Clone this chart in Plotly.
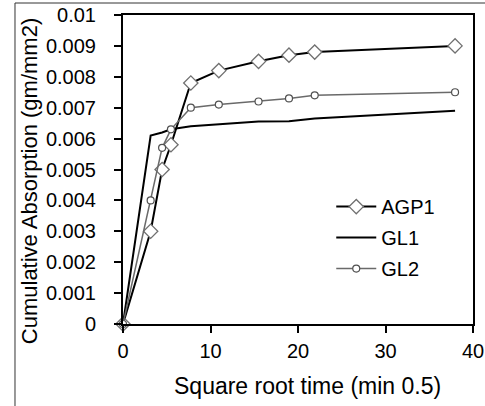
import plotly.graph_objects as go

# Data
x_vals = [0, 3.16, 4.47, 5.48, 7.75, 10.95, 15.49, 18.97, 21.91, 37.95]
agp1 = [0, 0.0030, 0.0050, 0.0058, 0.0078, 0.0082, 0.0085, 0.0087, 0.0088, 0.0090]
gl1 = [0, 0.0061, 0.0062, 0.0063, 0.0064, 0.00647, 0.00655, 0.00656, 0.00665, 0.0069]
gl2 = [0, 0.0040, 0.0057, 0.0063, 0.0070, 0.0071, 0.0072, 0.0073, 0.0074, 0.0075]

x_ticks = [0, 10, 20, 30, 40]
y_ticks = [0, 0.001, 0.002, 0.003, 0.004, 0.005, 0.006, 0.007, 0.008, 0.009, 0.01]
y_ticktext = ["0", "0.001", "0.002", "0.003", "0.004", "0.005", "0.006",
              "0.007", "0.008", "0.009", "0.01"]

x_title = "Square root time (min 0.5)"
y_title = "Cumulative Absorption (gm/mm2)"

FONT = "Arial, Liberation Sans, sans-serif"

fig = go.Figure()
fig.add_trace(go.Scatter(
    x=x_vals, y=agp1, name="AGP1", mode="lines+markers",
    line=dict(color="black", width=2),
    marker=dict(symbol="diamond", size=11, color="white",
                line=dict(color="#707070", width=1.3)),
    cliponaxis=False, legendgroup="a"))
fig.add_trace(go.Scatter(
    x=x_vals, y=gl1, name="GL1", mode="lines",
    line=dict(color="black", width=2),
    cliponaxis=False, legendgroup="b"))
fig.add_trace(go.Scatter(
    x=x_vals, y=gl2, name="GL2", mode="lines+markers",
    line=dict(color="#6a6a6a", width=1.5),
    marker=dict(symbol="circle", size=7, color="white",
                line=dict(color="#505050", width=1.2)),
    cliponaxis=False, legendgroup="c"))

fig.update_layout(
    width=485, height=406, autosize=False,
    margin=dict(l=123, r=12, t=15, b=82, autoexpand=False),
    paper_bgcolor="white", plot_bgcolor="white",
    font=dict(family=FONT, size=20, color="black"),
    showlegend=True,
    legend=dict(x=0.595, y=0.443, xanchor="left", yanchor="top",
                bgcolor="rgba(0,0,0,0)", font=dict(size=20),
                itemwidth=40, tracegroupgap=2),
    xaxis=dict(range=[0, 40], tickvals=x_ticks, showgrid=False, zeroline=False,
               showline=True, linecolor="black", linewidth=2, mirror=True,
               ticks="outside", ticklen=7, tickwidth=1.5, tickcolor="black",
               ticklabelstandoff=1, automargin=False),
    yaxis=dict(range=[0, 0.01], tickvals=y_ticks, ticktext=y_ticktext,
               showgrid=False, zeroline=False,
               showline=True, linecolor="black", linewidth=2, mirror=True,
               ticks="outside", ticklen=7, tickwidth=1.5, tickcolor="black",
               ticklabelstandoff=14, automargin=False),
    annotations=[
        dict(text=x_title, xref="paper", yref="paper", x=0.526, y=-0.2,
             xanchor="center", yanchor="middle", showarrow=False,
             font=dict(size=23)),
        dict(text=y_title, xref="paper", yref="paper", x=-0.265, y=0.463,
             xanchor="center", yanchor="middle", showarrow=False,
             textangle=-90, font=dict(size=22)),
    ],
    shapes=[
        dict(type="line", xref="paper", yref="paper",
             x0=-0.3086, y0=-0.28, x1=-0.3086, y1=1.0388,
             line=dict(color="#333333", width=1), layer="above"),
        dict(type="line", xref="paper", yref="paper",
             x0=-0.3086, y0=1.0388, x1=1.05, y1=1.0388,
             line=dict(color="#333333", width=1), layer="above"),
    ],
)

fig.write_html("out.html",
               config={"displayModeBar": False},
               post_script="document.body.style.margin='0';"
                           "document.body.style.overflow='hidden';")
